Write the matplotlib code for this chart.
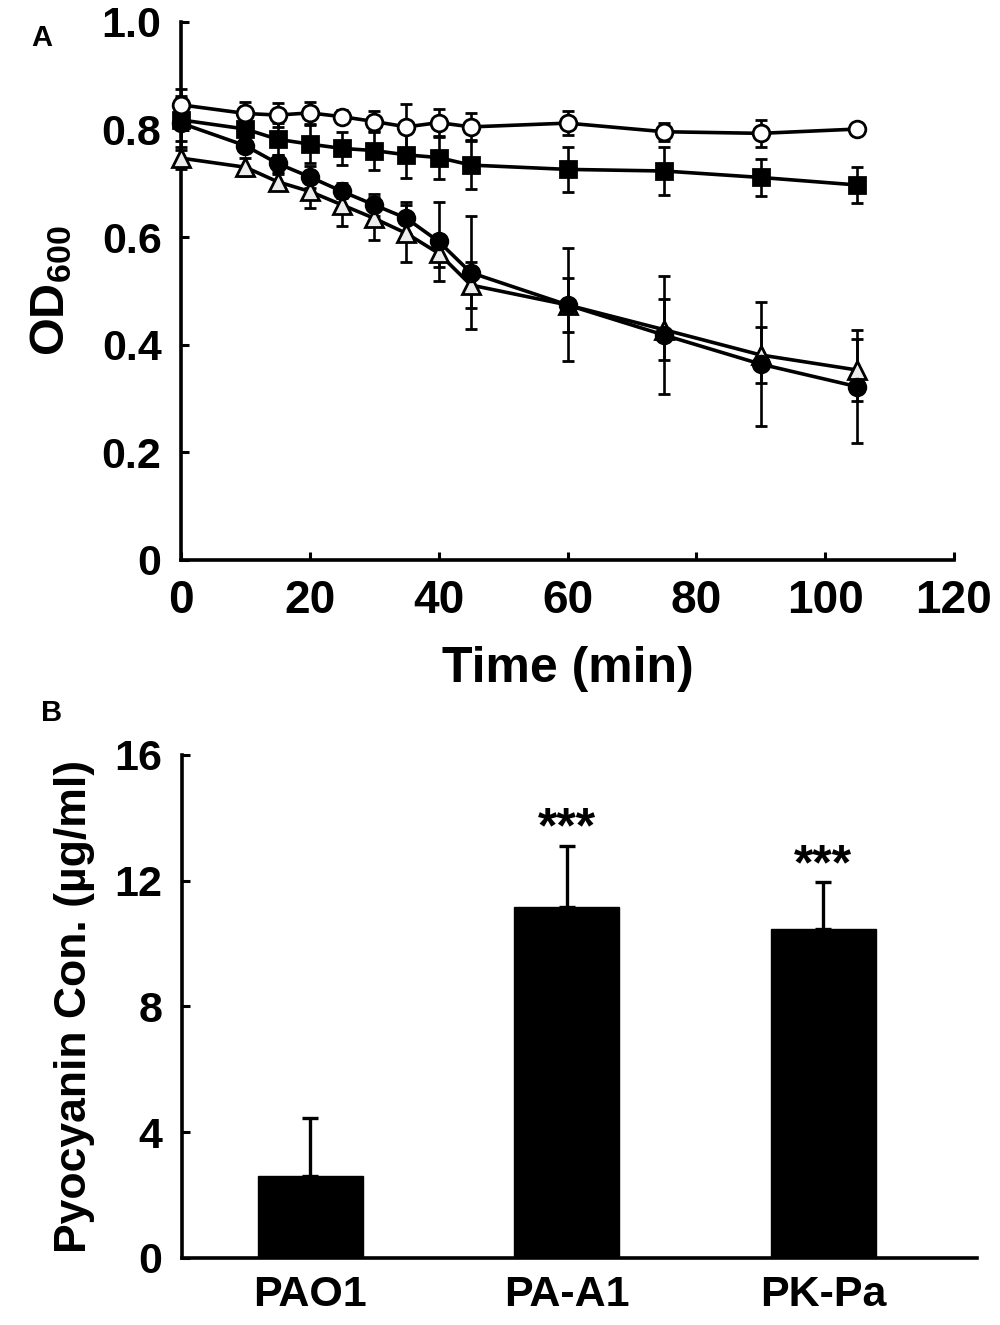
import numpy as np
import matplotlib
matplotlib.use("Agg")
import matplotlib.pyplot as plt

plt.rcParams['font.family'] = ['Liberation Sans', 'DejaVu Sans']
plt.rcParams['font.weight'] = 'bold'
plt.rcParams['mathtext.fontset'] = 'custom'
plt.rcParams['mathtext.rm'] = 'Liberation Sans:bold'
plt.rcParams['mathtext.bf'] = 'Liberation Sans:bold'

# panel A: OD600 over time
time_min = [0, 10, 15, 20, 25, 30, 35, 40, 45, 60, 75, 90, 105]
od_open_circle = [0.846, 0.830, 0.827, 0.831, 0.824, 0.815, 0.805, 0.813, 0.805, 0.812, 0.796, 0.793, 0.801]
err_open_circle = [0.030, 0.022, 0.022, 0.020, 0.012, 0.020, 0.043, 0.026, 0.025, 0.022, 0.017, 0.025, 0.010]
od_square = [0.818, 0.801, 0.782, 0.773, 0.765, 0.761, 0.753, 0.748, 0.734, 0.726, 0.723, 0.711, 0.697]
err_square = [0.040, 0.015, 0.030, 0.035, 0.031, 0.036, 0.043, 0.040, 0.045, 0.042, 0.044, 0.035, 0.033]
od_filled_circle = [0.812, 0.770, 0.737, 0.712, 0.685, 0.660, 0.635, 0.592, 0.534, 0.474, 0.418, 0.364, 0.322]
err_filled_circle = [0.050, 0.010, 0.015, 0.020, 0.012, 0.020, 0.030, 0.074, 0.105, 0.105, 0.110, 0.115, 0.105]
od_triangle = [0.747, 0.730, 0.703, 0.685, 0.660, 0.635, 0.607, 0.570, 0.511, 0.474, 0.428, 0.381, 0.353]
err_triangle = [0.020, 0.017, 0.015, 0.031, 0.040, 0.040, 0.053, 0.025, 0.043, 0.051, 0.057, 0.052, 0.058]

# panel B: pyocyanin
strains = ['PAO1', 'PA-A1', 'PK-Pa']
pyocyanin = [2.62, 11.17, 10.45]
pyocyanin_err = [1.82, 1.94, 1.51]
signif = ['', '***', '***']

fig = plt.figure(figsize=(10, 13.25), dpi=100)

# ---- panel A ----
axA = fig.add_axes([0.181, 0.5774, 0.773, 0.406])
series = [
    (od_triangle, err_triangle, '^', '#ececec'),
    (od_filled_circle, err_filled_circle, 'o', 'black'),
    (od_square, err_square, 's', 'black'),
    (od_open_circle, err_open_circle, 'o', 'white'),
]
for vals, errs, mk, fc in series:
    axA.errorbar(time_min, vals, yerr=errs, color='black', lw=2.6,
                 marker=mk, markersize=12 if mk != '^' else 13,
                 markerfacecolor=fc, markeredgecolor='black', markeredgewidth=2.0,
                 ecolor='black', elinewidth=1.9, capsize=4.5, capthick=1.9,
                 clip_on=False, zorder=3)

axA.set_xlim(0, 120)
axA.set_ylim(0, 1.0)
axA.set_xticks([0, 20, 40, 60, 80, 100, 120])
axA.set_yticks([0, 0.2, 0.4, 0.6, 0.8, 1.0])
axA.set_yticklabels(['0', '0.2', '0.4', '0.6', '0.8', '1.0'])
for s in ['top', 'right']:
    axA.spines[s].set_visible(False)
for s in ['left', 'bottom']:
    axA.spines[s].set_linewidth(2.6)
axA.tick_params(direction='in', length=6, width=2.2, labelsize=31, pad=14)
for lab in axA.get_xticklabels():
    lab.set_fontsize(33)
axA.set_xlabel('Time (min)', fontsize=36, fontweight='bold', labelpad=16)
axA.set_ylabel(r'$\mathbf{OD_{600}}$', fontsize=35, labelpad=20)

# ---- panel B ----
axB = fig.add_axes([0.182, 0.0506, 0.795, 0.3796])
x = np.arange(len(strains))
axB.bar(x, pyocyanin, width=0.41, color='black', edgecolor='black', zorder=2)
axB.errorbar(x, pyocyanin, yerr=[np.zeros(len(x)), pyocyanin_err], fmt='none',
             ecolor='black', elinewidth=2.4, capsize=5.5, capthick=2.4, zorder=3)
for xi, v, e, st in zip(x, pyocyanin, pyocyanin_err, signif):
    if st:
        axB.text(xi, v + e - 0.22, st, ha='center', va='bottom', fontsize=36,
                 fontweight='bold')
axB.set_xlim(-0.5, 2.6)
axB.set_ylim(0, 16)
axB.set_yticks([0, 4, 8, 12, 16])
axB.set_xticks(x)
axB.set_xticklabels(strains)
for s in ['top', 'right']:
    axB.spines[s].set_visible(False)
for s in ['left', 'bottom']:
    axB.spines[s].set_linewidth(2.6)
axB.tick_params(axis='y', direction='in', length=6, width=2.2, labelsize=31, pad=14)
axB.tick_params(axis='x', length=0, labelsize=31, pad=12)
axB.set_ylabel('Pyocyanin Con. (µg/ml)', fontsize=32, fontweight='bold', labelpad=14)

fig.text(0.042, 0.971, 'A', fontsize=21, fontweight='bold', ha='center', va='center')
fig.text(0.052, 0.462, 'B', fontsize=21, fontweight='bold', ha='center', va='center')

fig.savefig('out.png', dpi=100)
